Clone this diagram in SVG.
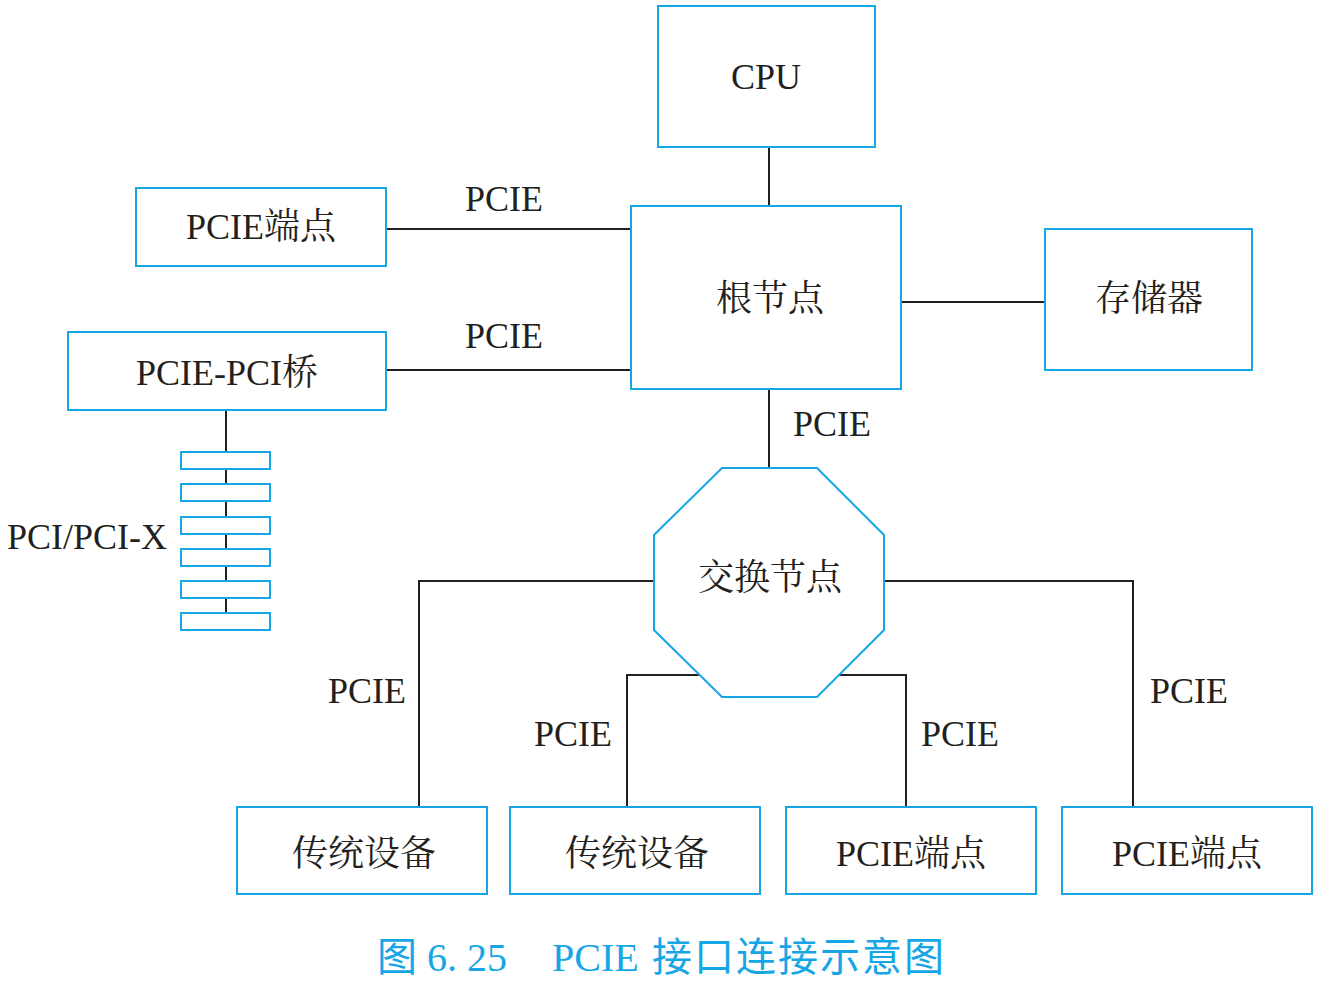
<svg xmlns="http://www.w3.org/2000/svg" width="1319" height="983" viewBox="0 0 1319 983">
<style>
.box{fill:#fff;stroke:#16a6e6;stroke-width:2}
.ln{fill:none;stroke:#231f20;stroke-width:2}
.t{font-family:"Liberation Serif","Noto Serif CJK SC","Noto Sans CJK SC",serif;font-size:36px;fill:#231f20;text-anchor:middle}
.cap{font-family:"Liberation Serif","Noto Sans CJK SC",serif;font-size:40px;fill:#16a6e6}
</style>
<rect width="1319" height="983" fill="#fff"/>
<g id="connectors">
<path class="ln" d="M769,147V206M769,389V468M386,229H631M386,370H631M901,302H1045M226,410V613M654,581H419V807M884,581H1133V807M699,675H627V807M839,675H906V807"/>
</g>
<g id="cpu"><rect class="box" x="658" y="6" width="217" height="141"/><text class="t" x="766" y="89">CPU</text></g>
<g id="root"><rect class="box" x="631" y="206" width="270" height="183"/><text class="t" x="770" y="311">根节点</text></g>
<g id="storage"><rect class="box" x="1045" y="229" width="207" height="141"/><text class="t" x="1149" y="311">存储器</text></g>
<g id="ep1"><rect class="box" x="136" y="188" width="250" height="78"/><text class="t" x="261" y="239">PCIE端点</text></g>
<g id="bridge"><rect class="box" x="68" y="332" width="318" height="78"/><text class="t" x="227" y="385">PCIE-PCI桥</text></g>
<g id="slots">
<rect class="box" x="181" y="452" width="89" height="17"/>
<rect class="box" x="181" y="484" width="89" height="17"/>
<rect class="box" x="181" y="517" width="89" height="17"/>
<rect class="box" x="181" y="549" width="89" height="17"/>
<rect class="box" x="181" y="581" width="89" height="17"/>
<rect class="box" x="181" y="613" width="89" height="17"/>
<text class="t" x="87" y="549">PCI/PCI-X</text>
</g>
<g id="switch"><polygon class="box" points="722,468 817,468 884,535 884,630 817,697 722,697 654,630 654,535"/><text class="t" x="770" y="590">交换节点</text></g>
<g id="legacy1"><rect class="box" x="237" y="807" width="250" height="87"/><text class="t" x="364" y="866">传统设备</text></g>
<g id="legacy2"><rect class="box" x="510" y="807" width="250" height="87"/><text class="t" x="637" y="866">传统设备</text></g>
<g id="ep2"><rect class="box" x="786" y="807" width="250" height="87"/><text class="t" x="911" y="866">PCIE端点</text></g>
<g id="ep3"><rect class="box" x="1062" y="807" width="250" height="87"/><text class="t" x="1187" y="866">PCIE端点</text></g>
<g id="labels">
<text class="t" x="504" y="211">PCIE</text>
<text class="t" x="504" y="348">PCIE</text>
<text class="t" x="832" y="436">PCIE</text>
<text class="t" x="367" y="703">PCIE</text>
<text class="t" x="573" y="746">PCIE</text>
<text class="t" x="960" y="746">PCIE</text>
<text class="t" x="1189" y="703">PCIE</text>
</g>
<text class="cap" x="377" y="971">图 6. 25<tspan x="552">PCIE</tspan><tspan x="652" letter-spacing="2">接口连接示意图</tspan></text>
</svg>
